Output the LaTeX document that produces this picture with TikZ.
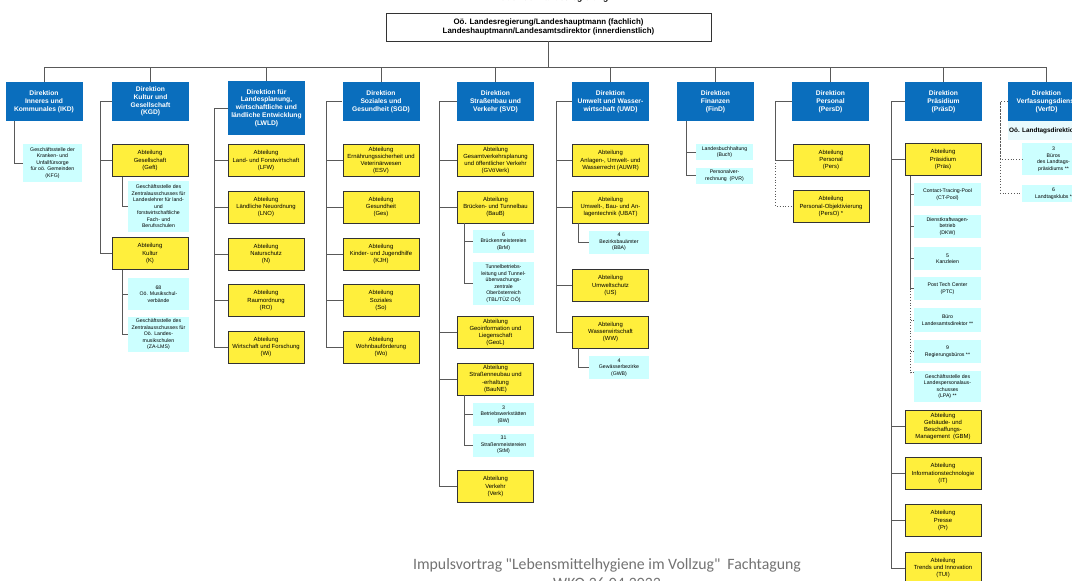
\documentclass[tikz,border=0pt]{standalone}
\usepackage{fontspec}
\setmainfont{Liberation Sans}
\newfontfamily\footfont{Carlito}
\definecolor{dirblue}{HTML}{0A6EBD}
\definecolor{abtyellow}{HTML}{FFEF3C}
\definecolor{subcyan}{HTML}{CCFFFF}
\definecolor{ltband}{HTML}{E8FAFD}
\begin{document}
\begin{tikzpicture}[
  x=1pt,y=-1pt,
  conn/.style={draw=black!65,line width=0.9pt},
  dotconn/.style={draw=black!65,line width=0.8pt,dotted},
  dir/.style={fill=dirblue,text=white,font=\bfseries\fontsize{6.7}{7.8}\selectfont,
    align=center,inner sep=0pt,minimum width=77pt,minimum height=39pt},
  abt/.style={draw=black!80,line width=0.8pt,fill=abtyellow,font=\fontsize{5.9}{7.2}\selectfont,
    align=center,inner sep=0pt,minimum width=76pt,minimum height=32pt},
  sub/.style={fill=subcyan,font=\fontsize{5.2}{6.5}\selectfont,
    align=center,inner sep=0pt,minimum width=61pt,minimum height=23pt}]
  \useasboundingbox[fill=white] (0,0) rectangle (1072,581);
  % head
  \node[font=\bfseries\fontsize{8.5}{9}\selectfont] (amt) at (548,-2) {Amt der Oö. Landesregierung};
  \node[draw=black!80,line width=0.8pt,minimum width=325pt,minimum height=28pt,inner sep=0pt,
    align=center,font=\bfseries\fontsize{7.9}{8.6}\selectfont] (lreg) at (548.5,27)
    {Oö. Landesregierung/Landeshauptmann (fachlich)\\Landeshauptmann/Landesamtsdirektor (innerdienstlich)};
  % directions
  \node[dir] (ikd) at (44,101.5) {Direktion\\Inneres und\\Kommunales (IKD)};
  \node[dir] (kgd) at (150.5,101.5) {Direktion\\Kultur und\\Gesellschaft\\(KGD)};
  \node[dir,minimum height=54pt] (lwld) at (266.5,108) {Direktion für\\Landesplanung,\\wirtschaftliche und\\ländliche Entwicklung\\(LWLD)};
  \node[dir] (sgd) at (381,101.5) {Direktion\\Soziales und\\Gesundheit (SGD)};
  \node[dir] (svd) at (495.5,101.5) {Direktion\\Straßenbau und\\Verkehr (SVD)};
  \node[dir] (uwd) at (610.5,101.5) {Direktion\\Umwelt und Wasser-\\wirtschaft (UWD)};
  \node[dir] (find) at (715.5,101.5) {Direktion\\Finanzen\\(FinD)};
  \node[dir] (persd) at (830.5,101.5) {Direktion\\Personal\\(PersD)};
  \node[dir] (prasd) at (943.5,101.5) {Direktion\\Präsidium\\(PräsD)};
  \node[dir] (verfd) at (1046.5,101.5) {Direktion\\Verfassungsdienst\\(VerfD)};
  \coordinate (bus) at (548.5,67);
  \draw[conn] (lreg.south) -- (bus);
  \draw[conn] (bus -| ikd.north) -- (bus -| verfd.north);
  \foreach \d in {ikd,kgd,lwld,sgd,svd,uwd,find,persd,prasd,verfd}
    \draw[conn] (bus -| \d.north) -- (\d.north);

  % IKD
  \node[sub,minimum width=59pt,minimum height=38pt] (kfg) at (52.5,163)
    {Geschäftsstelle der\\Kranken- und\\Unfallfürsorge\\für oö. Gemeinden\\(KFG)};
  \draw[conn] ([xshift=9pt]ikd.south west) |- (kfg.west);

  % KGD
  \node[abt] (geft) at (150,160.5) {Abteilung\\Gesellschaft\\(Geft)};
  \node[sub,minimum height=51pt] (zalf) at (158.5,206.5)
    {Geschäftsstelle des\\Zentralausschusses für\\Landeslehrer für land-\\und\\forstwirtschaftliche\\Fach- und\\Berufsschulen};
  \node[abt] (kultur) at (150,253.5) {Abteilung\\Kultur\\(K)};
  \node[sub,minimum height=32pt] (msv) at (158.5,294) {68\\Oö. Musikschul-\\verbände};
  \node[sub,minimum height=35pt] (zalms) at (158.5,334.5)
    {Geschäftsstelle des\\Zentralausschusses für\\Oö. Landes-\\musikschulen\\(ZA-LMS)};
  \coordinate (kgdT) at ([xshift=-11pt]kgd.west);
  \draw[conn] (kgd.west) -- (kgdT) |- (kultur.west);
  \draw[conn] (kgdT) |- (geft.west);
  \draw[conn] ([xshift=11pt]geft.south west) |- (zalf.west);
  \draw[conn] ([xshift=11pt]kultur.south west) |- (zalms.west);
  \draw[conn] ([xshift=11pt]kultur.south west) |- (msv.west);

  % LWLD
  \node[abt] (lfw) at (266,160.5) {Abteilung\\Land- und Forstwirtschaft\\(LFW)};
  \node[abt] (lno) at (266,207) {Abteilung\\Ländliche Neuordnung\\(LNO)};
  \node[abt] (nat) at (266,254) {Abteilung\\Naturschutz\\(N)};
  \node[abt] (ro) at (266,300.5) {Abteilung\\Raumordnung\\(RO)};
  \node[abt] (wi) at (266,347) {Abteilung\\Wirtschaft und Forschung\\(Wi)};
  \coordinate (lwldT) at ([xshift=-13pt]lwld.west);
  \draw[conn] (lwld.west) -- (lwldT) |- (wi.west);
  \foreach \a in {lfw,lno,nat,ro} \draw[conn] (lwldT) |- (\a.west);

  % SGD
  \node[abt] (esv) at (381,160.5) {Abteilung\\Ernährungssicherheit und\\Veterinärwesen\\(ESV)};
  \node[abt] (ges) at (381,207) {Abteilung\\Gesundheit\\(Ges)};
  \node[abt] (kjh) at (381,254) {Abteilung\\Kinder- und Jugendhilfe\\(KJH)};
  \node[abt] (so) at (381,300.5) {Abteilung\\Soziales\\(So)};
  \node[abt] (wo) at (381,347) {Abteilung\\Wohnbauförderung\\(Wo)};
  \coordinate (sgdT) at ([xshift=-16pt]sgd.west);
  \draw[conn] (sgd.west) -- (sgdT) |- (wo.west);
  \foreach \a in {esv,ges,kjh,so} \draw[conn] (sgdT) |- (\a.west);

  % SVD
  \node[abt] (gvo) at (495.5,160.5) {Abteilung\\Gesamtverkehrsplanung\\und öffentlicher Verkehr\\(GVöVerk)};
  \node[abt] (baub) at (495.5,207) {Abteilung\\Brücken- und Tunnelbau\\(BauB)};
  \node[sub] (brm) at (503.5,241.5) {6\\Brückenmeistereien\\(BrM)};
  \node[sub,minimum height=43pt] (tbl) at (503.5,283.5)
    {Tunnelbetriebs-\\leitung und Tunnel-\\überwachungs-\\zentrale\\Oberösterreich\\(TBL/TÜZ OÖ)};
  \node[abt] (geol) at (495.5,332.5) {Abteilung\\Geoinformation und\\Liegenschaft\\(GeoL)};
  \node[abt] (baune) at (495.5,379) {Abteilung\\Straßenneubau und\\-erhaltung\\(BauNE)};
  \node[sub] (bw) at (503.5,414.5) {3\\Betriebswerkstätten\\(BW)};
  \node[sub] (stm) at (503.5,445) {31\\Straßenmeistereien\\(StM)};
  \node[abt] (verk) at (495.5,486.5) {Abteilung\\Verkehr\\(Verk)};
  \coordinate (svdT) at ([xshift=-17pt]svd.west);
  \draw[conn] (svd.west) -- (svdT) |- (verk.west);
  \foreach \a in {gvo,baub,geol,baune} \draw[conn] (svdT) |- (\a.west);
  \draw[conn] ([xshift=7pt]baub.south west) |- (tbl.west);
  \draw[conn] ([xshift=7pt]baub.south west) |- (brm.west);
  \draw[conn] ([xshift=7pt]baune.south west) |- (stm.west);
  \draw[conn] ([xshift=7pt]baune.south west) |- (bw.west);

  % UWD
  \node[abt] (auwr) at (610.5,160.5) {Abteilung\\Anlagen-, Umwelt- und\\Wasserrecht (AUWR)};
  \node[abt] (ubat) at (610.5,207) {Abteilung\\Umwelt-, Bau- und An-\\lagentechnik (UBAT)};
  \node[sub,minimum width=60pt] (bba) at (619,242) {4\\Bezirksbauämter\\(BBA)};
  \node[abt] (us) at (610.5,285.5) {Abteilung\\Umweltschutz\\(US)};
  \node[abt] (ww) at (610.5,332) {Abteilung\\Wasserwirtschaft\\(WW)};
  \node[sub,minimum width=60pt] (gwb) at (619,367.5) {4\\Gewässerbezirke\\(GWB)};
  \coordinate (uwdT) at ([xshift=-15pt]uwd.west);
  \draw[conn] (uwd.west) -- (uwdT) |- (ww.west);
  \foreach \a in {auwr,ubat,us} \draw[conn] (uwdT) |- (\a.west);
  \draw[conn] ([xshift=6pt]ubat.south west) |- (bba.west);
  \draw[conn] ([xshift=6pt]ww.south west) |- (gwb.west);

  % FinD
  \node[sub,minimum width=57pt,minimum height=16pt] (buch) at (724.5,152) {Landesbuchhaltung\\(Buch)};
  \node[sub,minimum width=57pt,minimum height=16pt] (pvr) at (724.5,175.5) {Personalver-\\rechnung\ \ (PVR)};
  \draw[conn] ([xshift=10pt]find.south west) |- (pvr.west);
  \draw[conn] ([xshift=10pt]find.south west) |- (buch.west);

  % PersD
  \node[abt] (pers) at (831,160) {Abteilung\\Personal\\(Pers)};
  \node[abt] (perso) at (831,206.5) {Abteilung\\Personal-Objektivierung\\(PersO) *};
  \coordinate (persdT) at ([xshift=-16pt]persd.west);
  \draw[conn] (persd.west) -- (persdT) |- (pers.west);
  \draw[dotconn] (persdT |- pers.west) |- (perso.west);

  % PraesD
  \node[abt] (pras) at (943,159.5) {Abteilung\\Präsidium\\(Präs)};
  \node[sub,minimum width=67pt] (ctp) at (947.5,194.5) {Contact-Tracing-Pool\\(CT-Pool)};
  \node[sub,minimum width=67pt] (dkw) at (947.5,226.5) {Dienstkraftwagen-\\betrieb\\(DKW)};
  \node[sub,minimum width=67pt] (kanz) at (947.5,258.5) {5\\Kanzleien};
  \node[sub,minimum width=67pt] (ptc) at (947.5,288.5) {Post Tech Center\\(PTC)};
  \node[sub,minimum width=67pt,minimum height=24pt] (lad) at (947.5,320) {Büro\\Landesamtsdirektor **};
  \node[sub,minimum width=67pt] (regb) at (947.5,351.5) {9\\Regierungsbüros **};
  \node[sub,minimum width=67pt,minimum height=31pt] (lpa) at (947.5,386.5)
    {Geschäftsstelle des\\Landespersonalaus-\\schusses\\(LPA) **};
  \node[abt,minimum height=33pt] (gbm) at (943,426.5) {Abteilung\\Gebäude- und\\Beschaffungs-\\Management\ \ (GBM)};
  \node[abt] (it) at (943,473.5) {Abteilung\\Informationstechnologie\\(IT)};
  \node[abt] (pr) at (943,520.5) {Abteilung\\Presse\\(Pr)};
  \node[abt] (tui) at (943,568) {Abteilung\\Trends und Innovation\\(TUI)};
  \coordinate (prasdT) at ([xshift=-13pt]prasd.west);
  \draw[conn] (prasd.west) -- (prasdT) |- (tui.west);
  \foreach \a in {pras,gbm,it,pr} \draw[conn] (prasdT) |- (\a.west);
  \coordinate (prasT) at ([xshift=6pt]pras.south west);
  \draw[conn] (prasT) |- (ptc.west);
  \foreach \a in {ctp,dkw,kanz} \draw[conn] (prasT) |- (\a.west);
  \draw[dotconn] (prasT |- ptc.west) |- ([yshift=-2pt]lpa.north west);
  \draw[dotconn] (prasT |- lad.west) -- (lad.west);
  \draw[dotconn] (prasT |- regb.west) -- (regb.west);

  % VerfD
  \fill[ltband] (verfd.south west) rectangle ++(77,19);
  \node[anchor=west,inner sep=0pt,font=\bfseries\fontsize{6.4}{7}\selectfont] (ltd) at (1009,130.5) {Oö. Landtagsdirektion};
  \node[sub,minimum width=63pt,minimum height=32pt] (ltp) at (1053.5,159) {3\\Büros\\des Landtags-\\präsidiums **};
  \node[sub,minimum width=63pt,minimum height=17pt] (ltk) at (1053.5,193.5) {6\\Landtagsklubs *};
  \coordinate (verfdT) at ([xshift=-7pt]verfd.west);
  \draw[dotconn] (verfd.west) -- (verfdT) |- (ltk.west);
  \draw[dotconn] (verfdT) |- (ltp.west);

  % footer
  \node[font=\footfont\fontsize{15.8}{17}\selectfont,text=black!55] (foot) at (607,565)
    {Impulsvortrag "Lebensmittelhygiene im Vollzug"\ \ Fachtagung};
  \node[font=\footfont\fontsize{15.8}{17}\selectfont,text=black!55] (wko) at (607,583) {WKO 26.04.2023};
\end{tikzpicture}
\end{document}
